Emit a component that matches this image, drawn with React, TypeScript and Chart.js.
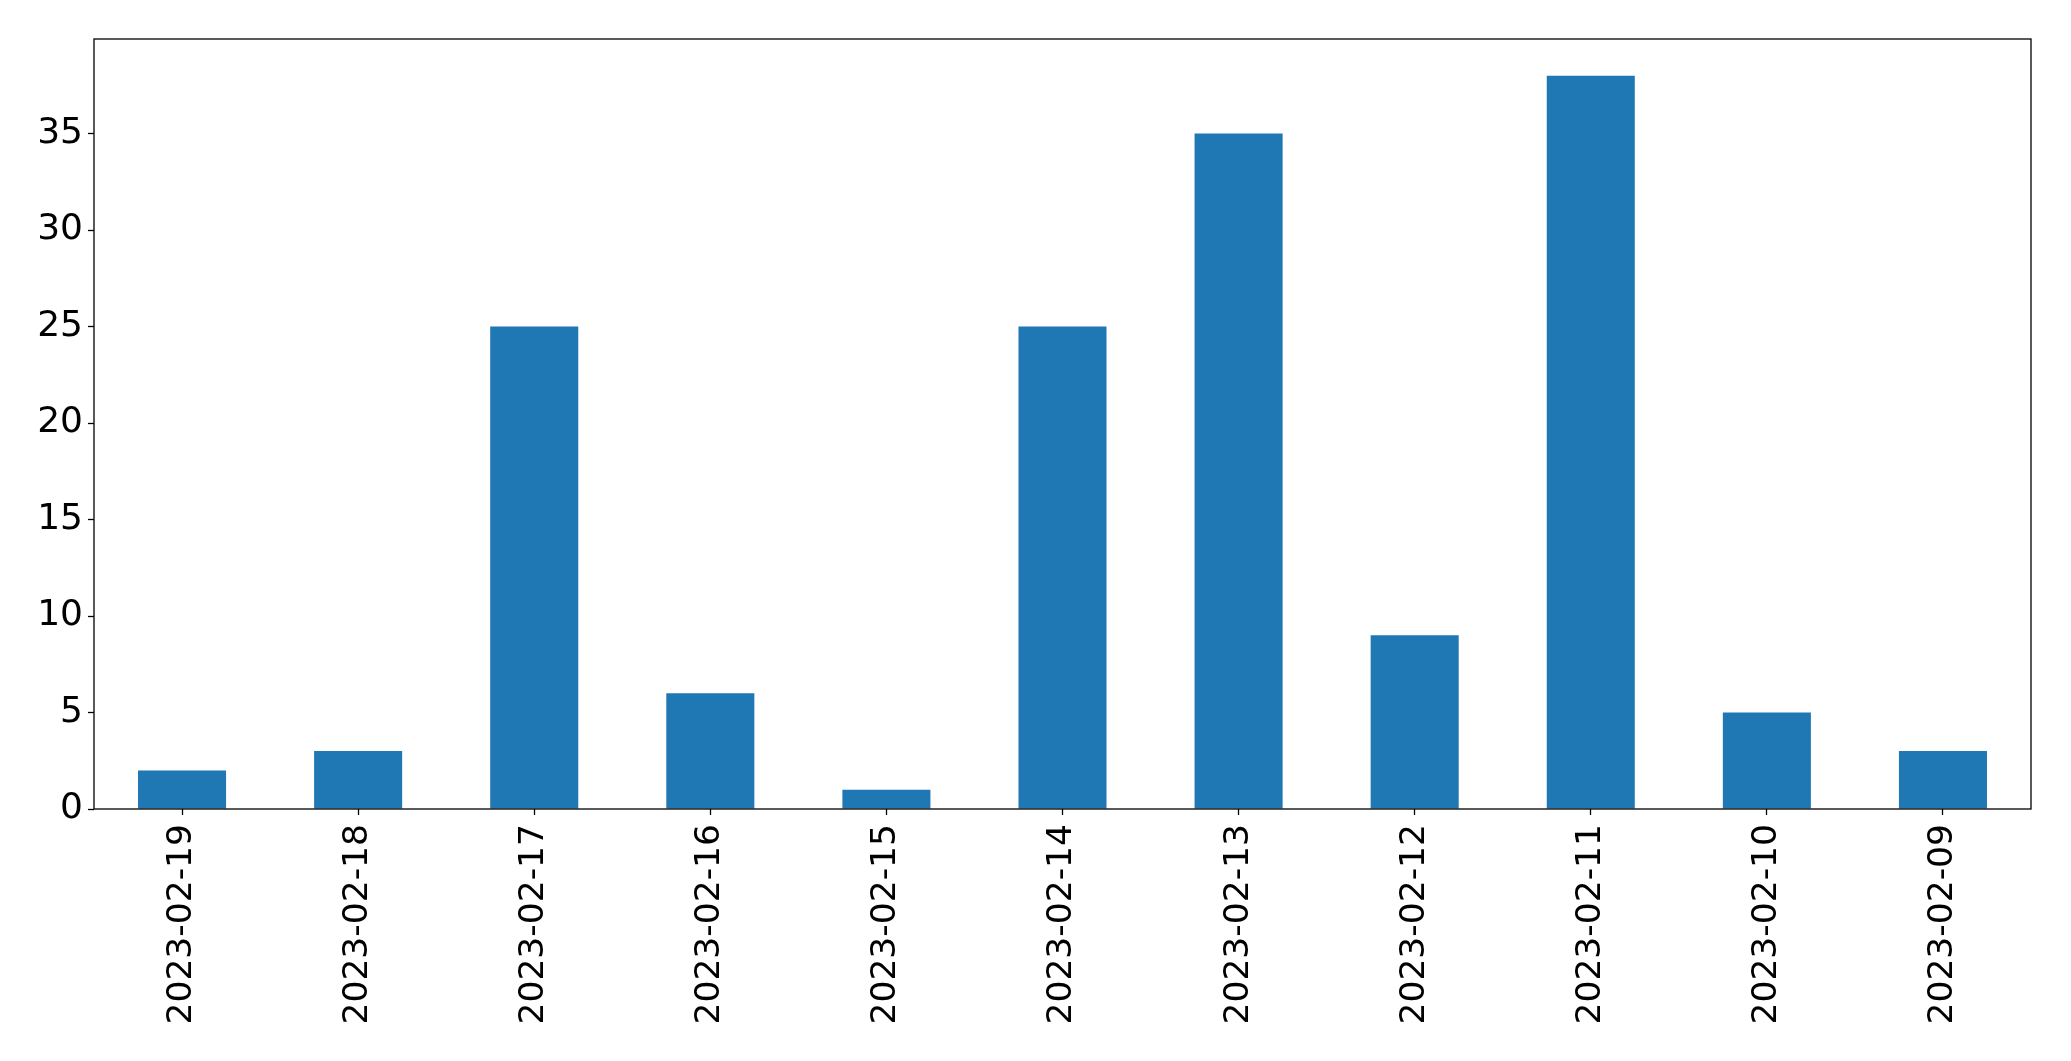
import React, { useEffect, useRef } from "react";
import { Chart, registerables } from "chart.js";

Chart.register(...registerables);

const categories = [
  "2023-02-19",
  "2023-02-18",
  "2023-02-17",
  "2023-02-16",
  "2023-02-15",
  "2023-02-14",
  "2023-02-13",
  "2023-02-12",
  "2023-02-11",
  "2023-02-10",
  "2023-02-09",
];
const counts = [2, 3, 25, 6, 1, 25, 35, 9, 38, 5, 3];
const yMax = 39.9;
const yStep = 5;

const W = 2071;
const H = 1061;

const framePlugin = {
  id: "frame",
  afterDraw(chart: any) {
    const { ctx, chartArea } = chart;
    ctx.save();
    ctx.strokeStyle = "#000";
    ctx.lineWidth = 1.3;
    ctx.strokeRect(chartArea.left, chartArea.top, chartArea.right - chartArea.left, chartArea.bottom - chartArea.top);
    ctx.restore();
  },
};

export default function App() {
  const ref = useRef<HTMLCanvasElement>(null);
  useEffect(() => {
    if (!ref.current) return;
    const chart = new Chart(ref.current, {
      type: "bar",
      data: {
        labels: categories,
        datasets: [
          {
            data: counts,
            backgroundColor: "#1f77b4",
            borderWidth: 0,
            categoryPercentage: 1,
            barPercentage: 0.5,
          },
        ],
      },
      options: {
        animation: false,
        responsive: false,
        maintainAspectRatio: false,
        layout: { padding: { top: 39, right: 40, left: 0, bottom: 0 } },
        plugins: { legend: { display: false }, tooltip: { enabled: false } },
        scales: {
          x: {
            offset: true,
            grid: {
              display: true,
              drawOnChartArea: false,
              drawTicks: true,
              tickLength: 6,
              tickWidth: 1.3,
              color: "#000",
              offset: false,
            },
            border: { display: false },
            ticks: {
              color: "#000",
              font: { family: "'DejaVu Sans'", size: 34.5 },
              minRotation: 90,
              maxRotation: 90,
              autoSkip: false,
              padding: 9,
            },
            afterFit(scale: any) {
              scale.height = 252;
            },
          },
          y: {
            min: 0,
            max: yMax,
            grid: {
              display: true,
              drawOnChartArea: false,
              drawTicks: true,
              tickLength: 6,
              tickWidth: 1.3,
              color: "#000",
            },
            border: { display: false },
            ticks: {
              color: "#000",
              font: { family: "'DejaVu Sans'", size: 36 },
              stepSize: yStep,
              includeBounds: false,
              padding: 5,
            },
            afterFit(scale: any) {
              scale.width = 94;
            },
          },
        },
      },
      plugins: [framePlugin],
    });
    return () => chart.destroy();
  }, []);
  return (
    <div style={{ position: "fixed", left: 0, top: 0, width: W, height: H, background: "#fff" }}>
      <canvas ref={ref} width={W} height={H} style={{ width: W, height: H, display: "block" }} />
    </div>
  );
}
